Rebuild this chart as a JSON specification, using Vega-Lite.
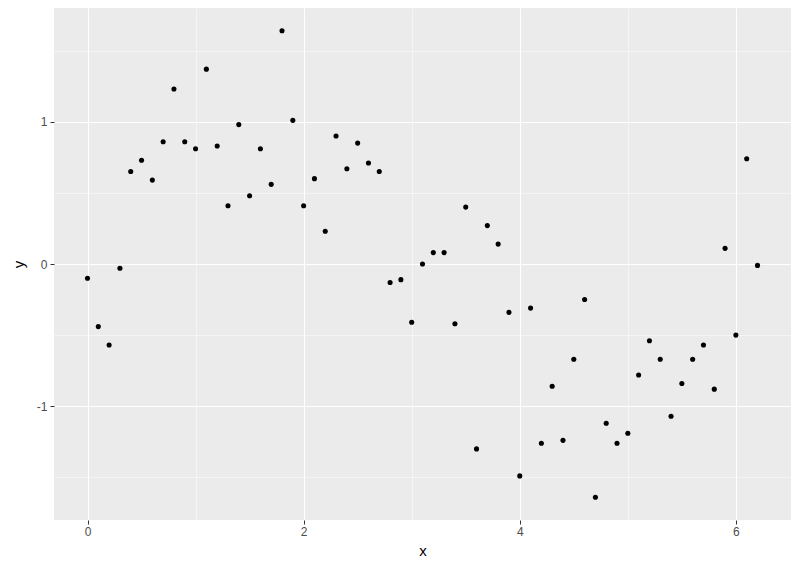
{
  "$schema": "https://vega.github.io/schema/vega-lite/v6.json",
  "width": 737,
  "height": 512,
  "autosize": {"type": "none"},
  "padding": {"left": 54, "top": 8, "right": 9, "bottom": 51},
  "background": "white",
  "config": {
    "view": {"fill": "#EBEBEB", "stroke": null},
    "axis": {
      "domain": false,
      "tickColor": "#333333",
      "tickSize": 4,
      "labelColor": "#4D4D4D",
      "labelFontSize": 12,
      "labelFont": "Liberation Sans",
      "titleFont": "Liberation Sans",
      "titleFontSize": 15,
      "titleFontWeight": "normal",
      "titleColor": "#000000",
      "gridColor": "#FFFFFF"
    }
  },
  "data": {
    "values": [
      {"x": 0.0, "y": -0.10}, {"x": 0.1, "y": -0.44}, {"x": 0.2, "y": -0.57}, {"x": 0.3, "y": -0.03},
      {"x": 0.4, "y": 0.65}, {"x": 0.5, "y": 0.73}, {"x": 0.6, "y": 0.59}, {"x": 0.7, "y": 0.86},
      {"x": 0.8, "y": 1.23}, {"x": 0.9, "y": 0.86}, {"x": 1.0, "y": 0.81}, {"x": 1.1, "y": 1.37},
      {"x": 1.2, "y": 0.83}, {"x": 1.3, "y": 0.41}, {"x": 1.4, "y": 0.98}, {"x": 1.5, "y": 0.48},
      {"x": 1.6, "y": 0.81}, {"x": 1.7, "y": 0.56}, {"x": 1.8, "y": 1.64}, {"x": 1.9, "y": 1.01},
      {"x": 2.0, "y": 0.41}, {"x": 2.1, "y": 0.60}, {"x": 2.2, "y": 0.23}, {"x": 2.3, "y": 0.90},
      {"x": 2.4, "y": 0.67}, {"x": 2.5, "y": 0.85}, {"x": 2.6, "y": 0.71}, {"x": 2.7, "y": 0.65},
      {"x": 2.8, "y": -0.13}, {"x": 2.9, "y": -0.11}, {"x": 3.0, "y": -0.41}, {"x": 3.1, "y": 0.00},
      {"x": 3.2, "y": 0.08}, {"x": 3.3, "y": 0.08}, {"x": 3.4, "y": -0.42}, {"x": 3.5, "y": 0.40},
      {"x": 3.6, "y": -1.30}, {"x": 3.7, "y": 0.27}, {"x": 3.8, "y": 0.14}, {"x": 3.9, "y": -0.34},
      {"x": 4.0, "y": -1.49}, {"x": 4.1, "y": -0.31}, {"x": 4.2, "y": -1.26}, {"x": 4.3, "y": -0.86},
      {"x": 4.4, "y": -1.24}, {"x": 4.5, "y": -0.67}, {"x": 4.6, "y": -0.25}, {"x": 4.7, "y": -1.64},
      {"x": 4.8, "y": -1.12}, {"x": 4.9, "y": -1.26}, {"x": 5.0, "y": -1.19}, {"x": 5.1, "y": -0.78},
      {"x": 5.2, "y": -0.54}, {"x": 5.3, "y": -0.67}, {"x": 5.4, "y": -1.07}, {"x": 5.5, "y": -0.84},
      {"x": 5.6, "y": -0.67}, {"x": 5.7, "y": -0.57}, {"x": 5.8, "y": -0.88}, {"x": 5.9, "y": 0.11},
      {"x": 6.0, "y": -0.50}, {"x": 6.1, "y": 0.74}, {"x": 6.2, "y": -0.01}
    ]
  },
  "mark": {"type": "point", "filled": true, "color": "#000000", "opacity": 1, "size": 26},
  "encoding": {
    "x": {
      "field": "x", "type": "quantitative",
      "scale": {"domain": [-0.31, 6.51], "nice": false, "zero": false},
      "axis": {
        "values": [0, 1, 2, 3, 4, 5, 6],
        "labelExpr": "datum.value % 2 === 0 ? '' + datum.value : ''",
        "tickOpacity": {"condition": {"test": "datum.value % 2 === 0", "value": 1}, "value": 0},
        "gridWidth": {"condition": {"test": "datum.value % 2 === 0", "value": 1.1}, "value": 0.5},
        "labelPadding": 2,
        "titlePadding": 6,
        "labelFlush": false
      }
    },
    "y": {
      "field": "y", "type": "quantitative",
      "scale": {"domain": [-1.80, 1.80], "nice": false, "zero": false},
      "axis": {
        "values": [-1.5, -1, -0.5, 0, 0.5, 1, 1.5],
        "labelExpr": "datum.value % 1 === 0 ? '' + datum.value : ''",
        "tickOpacity": {"condition": {"test": "datum.value % 1 === 0", "value": 1}, "value": 0},
        "gridWidth": {"condition": {"test": "datum.value % 1 === 0", "value": 1.1}, "value": 0.5},
        "labelPadding": 3,
        "titlePadding": 10,
        "labelFlush": false
      }
    }
  }
}
